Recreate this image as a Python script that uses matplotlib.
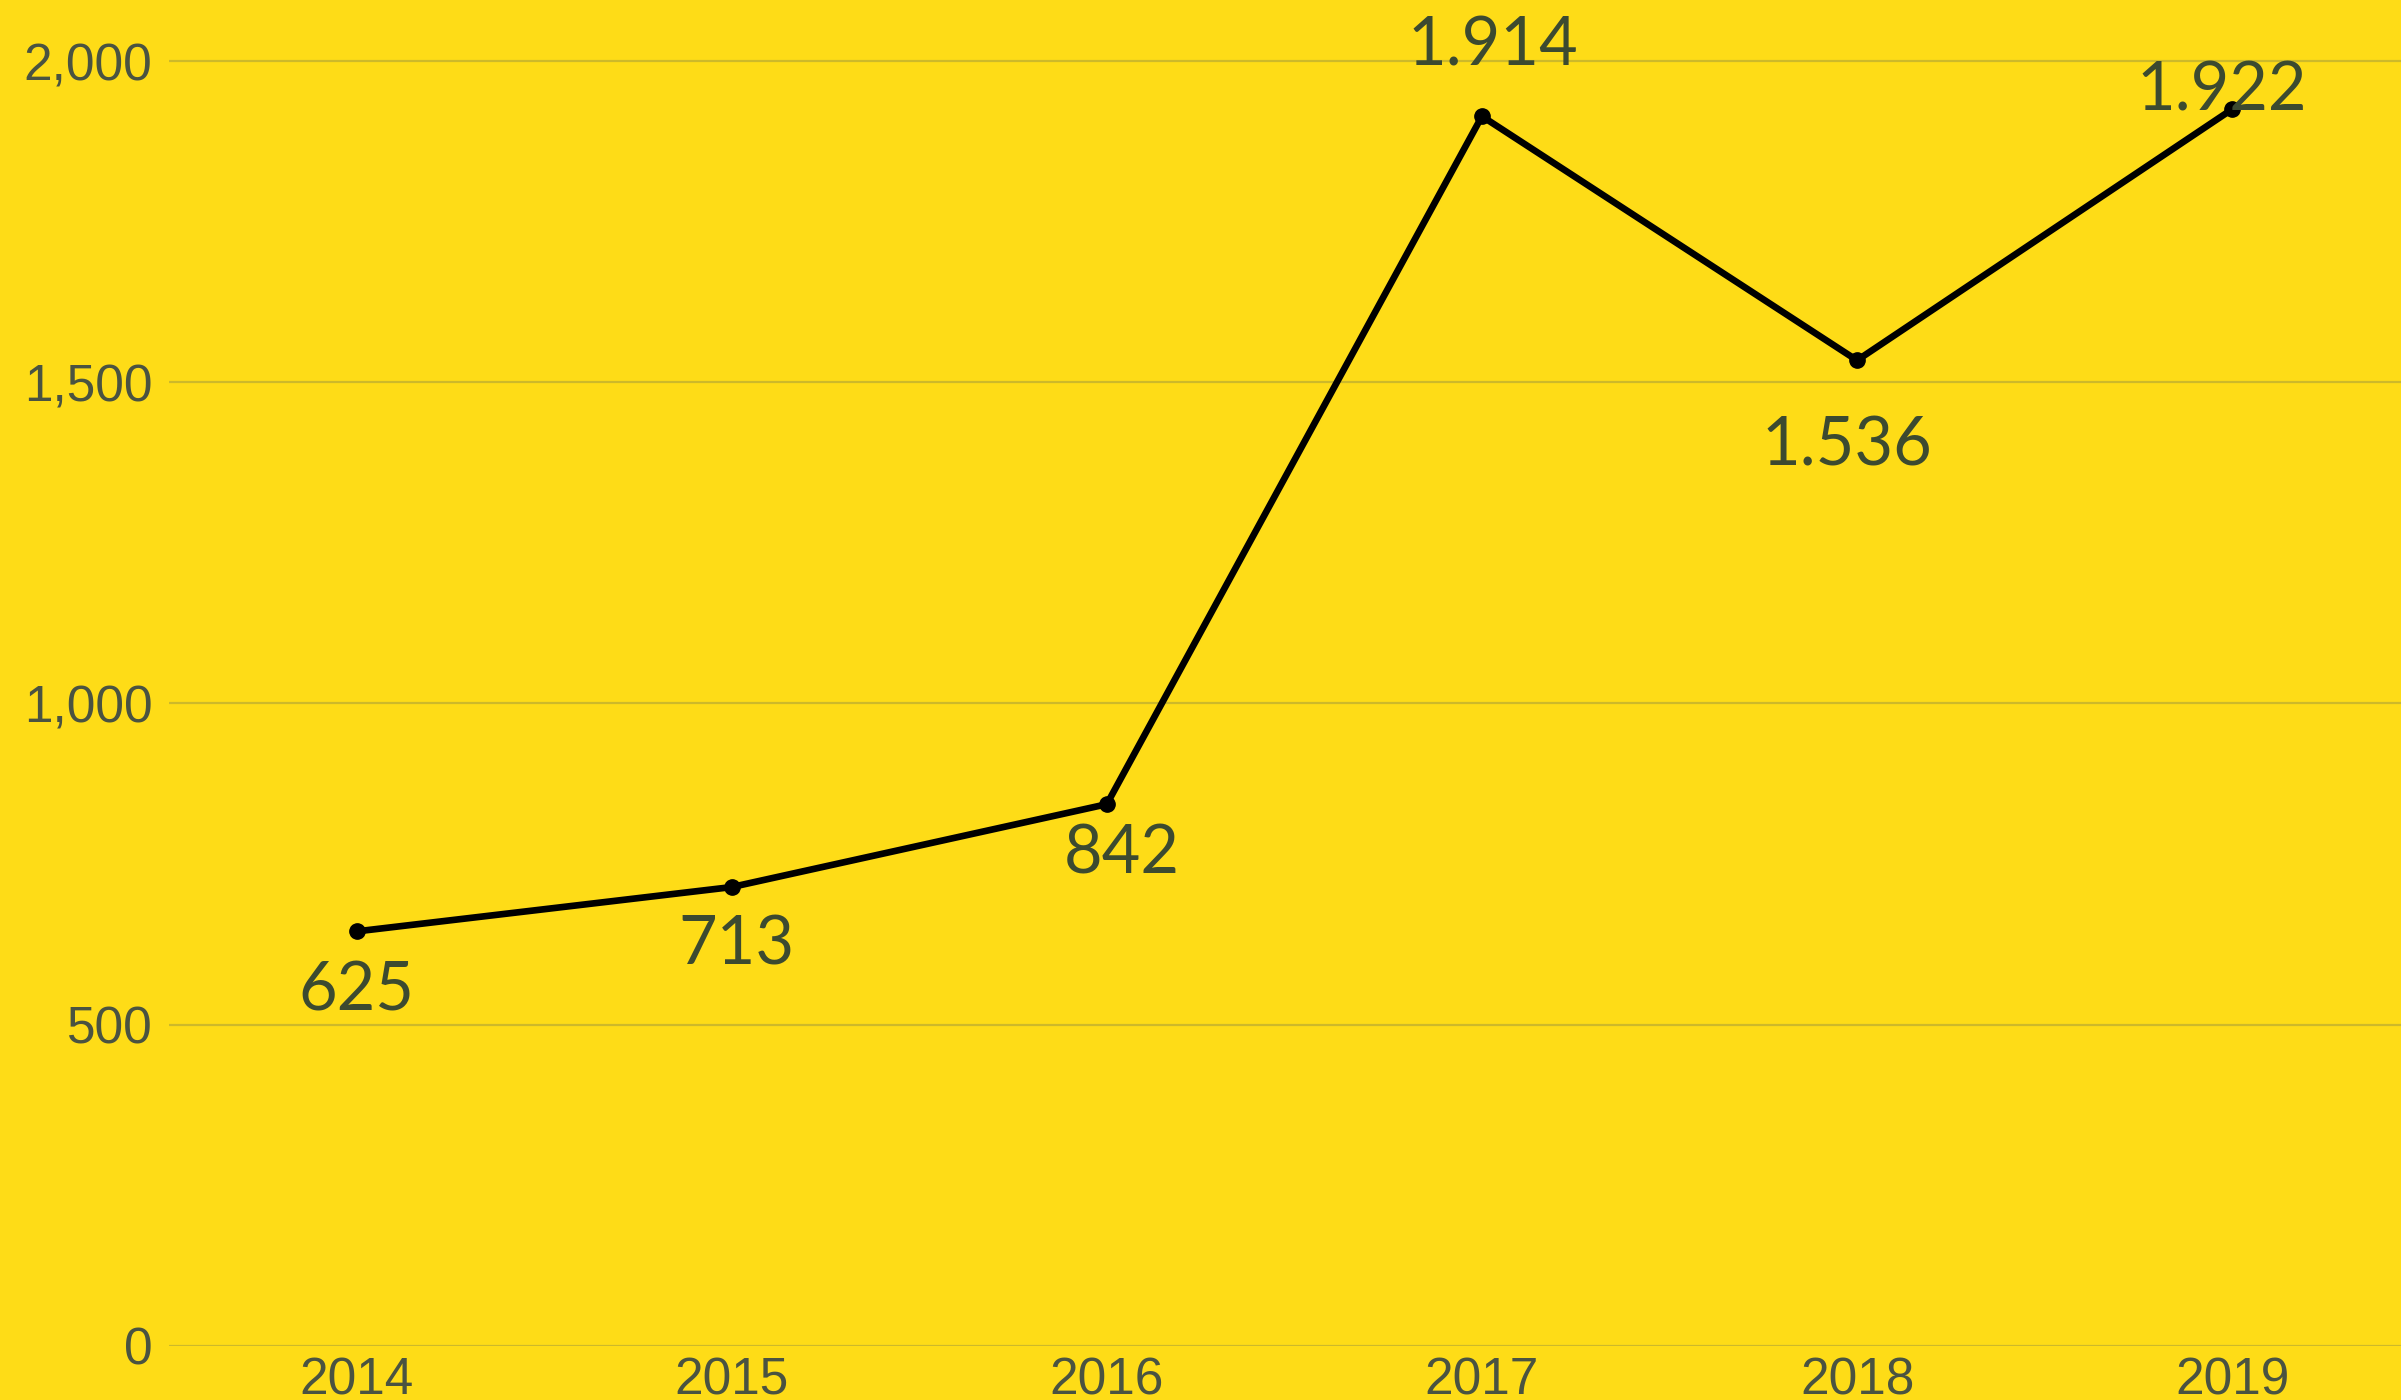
import matplotlib
matplotlib.use("Agg")
import matplotlib.pyplot as plt
import matplotlib.ticker as ticker

years = ["2014", "2015", "2016", "2017", "2018", "2019"]
# positions as drawn in the reference (first point sits a little above its label value)
values = [645, 714, 843, 1914, 1534, 1925]
value_labels = ["625", "713", "842", "1.914", "1.536", "1.922"]
# label offsets from each point (pixels: dx, dy)
label_offsets = [(0, -60), (5, -58), (15, -50), (11, 70), (-10, -86), (-10, 18)]

bg = "#FEDC17"
tick_color = "#4a5341"
label_color = "#3c4a30"

fig = plt.figure(figsize=(24.01, 14), dpi=100, facecolor=bg)
ax = fig.add_axes([169 / 2401, 54.3 / 1400, 1 - 169 / 2401, 1 - 54.3 / 1400])
ax.set_facecolor(bg)

x = list(range(len(years)))
ax.plot(x, values, color="black", linewidth=4.8, marker="o", markersize=11,
        solid_capstyle="round", zorder=3)

px = 72 / 100
for xi, v, lab, (dx, dy) in zip(x, values, value_labels, label_offsets):
    ax.annotate(lab, (xi, v), xytext=(dx * px, dy * px), textcoords="offset points",
                ha="center", va="center", fontsize=48, color=label_color,
                family="Lato", fontweight="normal", zorder=4)

ax.set_xlim(-0.5, 5.45)
ax.set_ylim(0, 2095)
ax.set_yticks([0, 500, 1000, 1500, 2000])
ax.yaxis.set_major_formatter(ticker.FuncFormatter(lambda v, _: f"{v:,.0f}"))
ax.set_xticks(x)
ax.set_xticklabels(years)

ax.grid(axis="y", color="#cdb92a", linewidth=1.6)
ax.set_axisbelow(True)
for s in ax.spines.values():
    s.set_visible(False)
ax.tick_params(axis="both", length=0, labelsize=37, labelcolor=tick_color)
ax.tick_params(axis="y", pad=12)
ax.tick_params(axis="x", pad=8)
for t in ax.get_xticklabels() + ax.get_yticklabels():
    t.set_family("Liberation Sans")

fig.savefig("out.png", dpi=100, facecolor=bg)
